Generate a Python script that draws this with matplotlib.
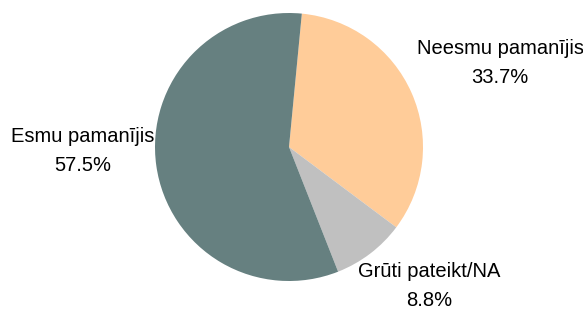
import matplotlib
matplotlib.use('Agg')
import matplotlib.pyplot as plt

plt.rcParams['font.family'] = ['Liberation Sans', 'DejaVu Sans']

# dati
labels = ['Neesmu pamanījis', 'Grūti pateikt/NA', 'Esmu pamanījis']
values = [33.7, 8.8, 57.5]
colors = ['#FFCC99', '#C0C0C0', '#668080']

# etiķešu novietojums (pie rādiusa vienībās)
label_pos = [(1.575, 0.627), (1.045, -1.037), (-1.537, -0.03)]

fig = plt.figure(figsize=(5.83, 3.12), dpi=100)
ax = fig.add_axes([0, 0, 1, 1])
ax.pie(values, colors=colors, startangle=84.5, counterclock=False,
       radius=1.0, center=(0, 0), wedgeprops={'linewidth': 0})

for lab, v, (x, y) in zip(labels, values, label_pos):
    ax.text(x, y, f'{lab}\n{v:.1f}%', ha='center', va='center',
            fontsize=14.5, linespacing=1.65, color='black')

r = 134
ax.set_xlim(-289 / r, (583 - 289) / r)
ax.set_ylim(-165 / r, (312 - 165) / r)
ax.set_aspect('auto')
ax.axis('off')

fig.savefig('out.png', dpi=100)
